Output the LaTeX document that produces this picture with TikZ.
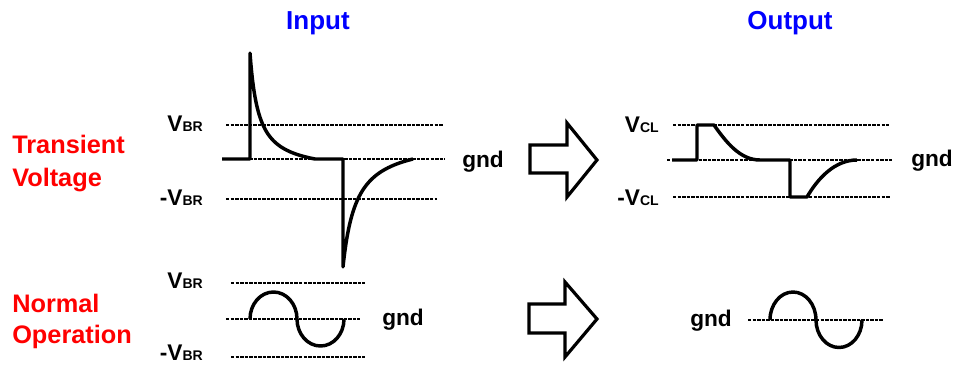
\documentclass[tikz,border=0pt]{standalone}
\usepackage{fontspec}
\setmainfont{Liberation Sans}
\newcommand\sublbl[2]{{\fontsize{17}{19}\selectfont #1}{\fontsize{10.5}{12}\selectfont #2}}
\begin{document}
\begin{tikzpicture}[x=0.75pt,y=-0.75pt,
  level/.style={line width=2.1pt,dash pattern=on 2.6pt off 0.8pt},
  wave/.style={line width=2.6pt,line join=round},
  bigarrow/.style={line width=2.4pt,line join=miter},
  title/.style={font=\bfseries\fontsize{19.5}{22}\selectfont,text=blue},
  rowlbl/.style={font=\bfseries\fontsize{19}{22}\selectfont,text=red,anchor=base west,inner sep=0pt},
  vlbl/.style={font=\bfseries,anchor=base east,inner sep=0pt},
  gndlbl/.style={font=\bfseries\fontsize{17}{20}\selectfont,anchor=base west,inner sep=0pt}]
\fill[white] (0,0) rectangle (956,365);
\useasboundingbox (0,0) rectangle (956,365);

% column titles
\node[title] (tin) at (318,23) {Input};
\node[title] (tout) at (790,23) {Output};

% row captions
\node[rowlbl] (tr1) at (12,153) {Transient};
\node[rowlbl] (tr2) at (12,186) {Voltage};
\node[rowlbl] (no1) at (12,312) {Normal};
\node[rowlbl] (no2) at (12,343) {Operation};

% ---- transient input ----
\draw[level] (226,125) -- (443,125);
\draw[level] (222,159) -- (445,159);
\draw[level] (226,199) -- (437,199);
\node[vlbl] (vbr1) at (203,131) {\sublbl{V}{BR}};
\node[vlbl] (nvbr1) at (203,205) {\sublbl{-V}{BR}};
\node[gndlbl] (g1) at (462,167) {gnd};
\draw[wave] (222,159) -- (250,159) -- (250,53)
  -- plot[domain=250:315,samples=80] (\x,{159-(1045.6/(\x-241.3)-14.19)})
  -- (343,159) -- (343,267)
  -- plot[domain=343:413,samples=80] (\x,{159+(1709.3/(\x-329.7)-20.52)});

% ---- transient output ----
\draw[level] (673,125) -- (889,125);
\draw[level] (667,160) -- (892,160);
\draw[level] (673,197) -- (890,197);
\node[vlbl] (vcl) at (659,132) {\sublbl{V}{CL}};
\node[vlbl] (nvcl) at (659,205) {\sublbl{-V}{CL}};
\node[gndlbl] (g2) at (911,166) {gnd};
\draw[wave] (672,160) -- (697,160) -- (697,125) -- (714,125)
  .. controls (726,142) and (740,160) .. (760,160)
  -- (790,160) -- (790,197) -- (807,197)
  .. controls (818,178) and (835,160) .. (857,160);

% ---- normal operation input ----
\draw[level] (231,283) -- (365,283);
\draw[level] (226,319) -- (360,319);
\draw[level] (231,357) -- (365,357);
\node[vlbl] (vbr2) at (203,288) {\sublbl{V}{BR}};
\node[vlbl] (nvbr2) at (203,360) {\sublbl{-V}{BR}};
\node[gndlbl] (g3) at (382,325) {gnd};
\draw[wave] (250,319) arc[start angle=180,end angle=360,x radius=23.5,y radius=27]
  arc[start angle=180,end angle=0,x radius=23.5,y radius=27];

% ---- normal operation output ----
\draw[level] (748,320) -- (883,320);
\node[gndlbl] (g4) at (690,326) {gnd};
\draw[wave] (770,320) arc[start angle=180,end angle=360,x radius=23,y radius=28]
  arc[start angle=180,end angle=0,x radius=23,y radius=27.5];

% ---- block arrows ----
\draw[bigarrow] (530,145) -- (567,145) -- (567,123) -- (597,160) -- (567,197) -- (567,173) -- (530,173) -- cycle;
\draw[bigarrow] (529,304) -- (565,304) -- (565,282) -- (597,319) -- (565,357) -- (565,333) -- (529,333) -- cycle;
\end{tikzpicture}
\end{document}
